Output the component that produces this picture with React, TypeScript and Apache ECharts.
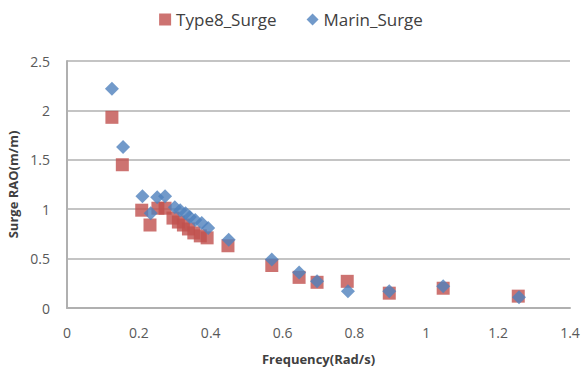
import React, { useEffect, useRef } from "react";
import * as echarts from "echarts";

const type8Freq = [0.125, 0.154, 0.208, 0.231, 0.253, 0.273, 0.295, 0.31, 0.324, 0.338, 0.353, 0.371, 0.39, 0.448, 0.57, 0.646, 0.696, 0.78, 0.897, 1.047, 1.256];
const type8Surge = [1.93, 1.45, 0.99, 0.84, 1.01, 1.01, 0.91, 0.87, 0.84, 0.8, 0.76, 0.73, 0.71, 0.63, 0.43, 0.31, 0.26, 0.27, 0.15, 0.2, 0.12];
const marinFreq = [0.125, 0.156, 0.21, 0.233, 0.251, 0.273, 0.3, 0.315, 0.33, 0.342, 0.357, 0.375, 0.393, 0.45, 0.57, 0.646, 0.696, 0.782, 0.897, 1.047, 1.258];
const marinSurge = [2.22, 1.63, 1.13, 0.96, 1.12, 1.13, 1.02, 0.99, 0.96, 0.92, 0.89, 0.86, 0.81, 0.69, 0.49, 0.36, 0.27, 0.17, 0.17, 0.22, 0.11];

const seriesNames = ["Type8_Surge", "Marin_Surge"];
const xTitle = "Frequency(Rad/s)";
const yTitle = "Surge RAO(m/m)";

export default function App() {
  const ref = useRef<HTMLDivElement>(null);
  useEffect(() => {
    if (!ref.current) return;
    const chart = echarts.init(ref.current, null, { renderer: "svg" });
    const font = "'Open Sans', 'Liberation Sans', sans-serif";
    chart.setOption({
      animation: false,
      backgroundColor: "#ffffff",
      textStyle: { fontFamily: font },
      legend: {
        top: 6,
        left: "center",
        itemWidth: 12,
        itemHeight: 12,
        itemGap: 30,
        textStyle: { fontSize: 17, color: "#404040", fontFamily: font },
        data: [
          { name: seriesNames[0], icon: "rect" },
          { name: seriesNames[1], icon: "diamond" },
        ],
      },
      grid: { left: 67, right: 12, top: 61, bottom: 71, outerBoundsMode: "none", containLabel: false },
      xAxis: {
        type: "value",
        min: 0,
        max: 1.4,
        interval: 0.2,
        name: xTitle,
        nameLocation: "middle",
        nameGap: 44,
        nameTextStyle: { fontSize: 13, fontWeight: "bold", color: "#404040", fontFamily: font },
        axisLine: { show: true, lineStyle: { color: "#b0b0b0", width: 2 } },
        axisTick: { show: false },
        splitLine: { show: false },
        axisLabel: { fontSize: 14, color: "#595959", margin: 17, fontFamily: font },
      },
      yAxis: {
        type: "value",
        min: 0,
        max: 2.5,
        interval: 0.5,
        name: yTitle,
        nameLocation: "middle",
        nameGap: 48,
        nameRotate: 90,
        nameTextStyle: { fontSize: 13, fontWeight: "bold", color: "#404040", fontFamily: font },
        axisLine: { show: true, lineStyle: { color: "#b0b0b0", width: 2 } },
        axisTick: { show: false },
        splitLine: { show: true, lineStyle: { color: "#c4c4c4", width: 2 } },
        axisLabel: { fontSize: 14, color: "#595959", margin: 17, fontFamily: font },
      },
      series: [
        {
          name: seriesNames[0],
          type: "scatter",
          symbol: "rect",
          symbolSize: 13,
          itemStyle: { color: "#C0504D" },
          data: type8Freq.map((f, i) => [f, type8Surge[i]]),
          z: 2,
        },
        {
          name: seriesNames[1],
          type: "scatter",
          symbol: "diamond",
          symbolSize: 14,
          itemStyle: { color: "#4F81BD" },
          data: marinFreq.map((f, i) => [f, marinSurge[i]]),
          z: 3,
        },
      ],
    });
    return () => chart.dispose();
  }, []);
  return <div ref={ref} style={{ width: 582, height: 379, position: "absolute", left: 0, top: 0 }} />;
}
